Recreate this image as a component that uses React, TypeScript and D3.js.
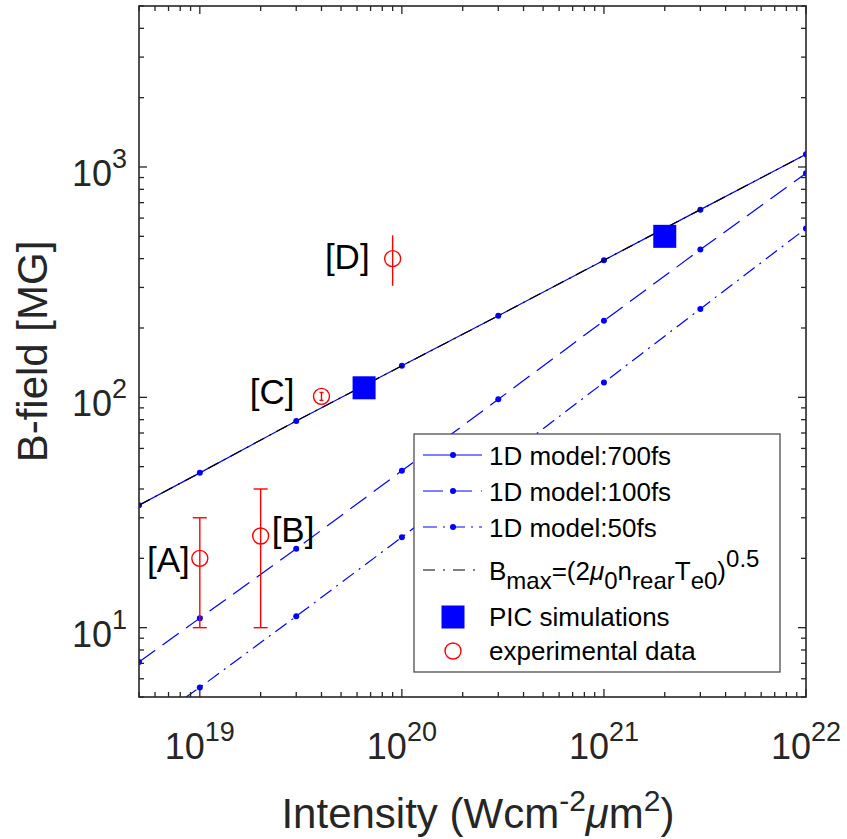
import React, { useEffect, useRef } from "react";
import * as d3 from "d3";

// intensity grid used by the 1D model curves (W cm^-2 um^2)
const intensity = [5e18, 1e19, 3e19, 1e20, 3e20, 1e21, 3e21, 1e22];
// B-field of the 1D model for each pulse length (MG)
const model700 = [34, 47, 79, 137, 226, 394, 653, 1135];
const model100 = [7.1, 11, 22, 48, 98, 215, 438, 940];
const model50 = [3.6, 5.5, 11.2, 24.7, 52, 116, 242, 541];
// B_max = (2 mu0 n_rear Te0)^0.5, lies right on top of the 700fs curve
const bmax = [34, 47, 79, 137, 226, 394, 653, 1135];

// PIC simulations
const picIntensity = [6.5e19, 2e21];
const picField = [110, 500];

// experimental data with error bars
const expIntensity = [1e19, 2e19, 4e19, 9e19];
const expField = [20, 25, 101, 400];
const expLow = [10, 10, 97, 305];
const expHigh = [30, 40, 105, 505];
const expLabels = ["[A]", "[B]", "[C]", "[D]"];

const xTickExps = [19, 20, 21, 22];
const yTickExps = [1, 2, 3];

type Part = { t: string; size: number; dy?: number; italic?: boolean };

const App = () => {
  const svgRef = useRef<SVGSVGElement>(null);

  useEffect(() => {
    const width = 847;
    const height = 839;
    const font = '"Liberation Sans", Arial, Helvetica, sans-serif';
    const ink = "#262626";
    const blue = "#0000ff";
    const red = "#ff0000";

    const svg = d3.select(svgRef.current)
      .attr("width", width)
      .attr("height", height);
    svg.selectAll("*").remove();

    const left = 139, right = 806, top = 6, bottom = 697;

    const x = d3.scaleLog().domain([5e18, 1e22]).range([left, right]);
    const y = d3.scaleLog().domain([5, 5000]).range([bottom, top]);

    // rich text helper (sub/superscripts)
    const rich = (sel: any, parts: Part[]) => {
      parts.forEach(p => {
        const ts = sel.append("tspan").attr("font-size", p.size).text(p.t);
        if (p.dy) ts.attr("dy", p.dy);
        if (p.italic) ts.attr("font-style", "italic");
      });
      return sel;
    };

    svg.append("rect").attr("width", width).attr("height", height).attr("fill", "#fff");

    svg.append("defs").append("clipPath").attr("id", "plotClip")
      .append("rect")
      .attr("x", left).attr("y", top)
      .attr("width", right - left).attr("height", bottom - top);

    const plot = svg.append("g").attr("clip-path", "url(#plotClip)");

    const line = d3.line<number>()
      .x((d, i) => x(intensity[i]))
      .y(d => y(d));

    // 1D model curves
    const curves = [
      { values: model700, dash: null },
      { values: model100, dash: "20,9" },
      { values: model50, dash: "14,6,2,6" },
    ];
    curves.forEach(c => {
      plot.append("path")
        .attr("d", line(c.values))
        .attr("fill", "none")
        .attr("stroke", blue)
        .attr("stroke-width", 1.2)
        .attr("stroke-dasharray", c.dash);
      plot.append("g").selectAll("circle")
        .data(c.values)
        .join("circle")
        .attr("cx", (d, i) => x(intensity[i]))
        .attr("cy", d => y(d))
        .attr("r", 3)
        .attr("fill", blue);
    });

    // B_max analytic curve
    plot.append("path")
      .attr("d", line(bmax))
      .attr("fill", "none")
      .attr("stroke", "#000")
      .attr("stroke-width", 1.2)
      .attr("stroke-dasharray", "12,6,2,6");

    // PIC squares
    const sq = 23;
    plot.append("g").selectAll("rect")
      .data(picField)
      .join("rect")
      .attr("x", (d, i) => x(picIntensity[i]) - sq / 2)
      .attr("y", d => y(d) - sq / 2)
      .attr("width", sq)
      .attr("height", sq)
      .attr("fill", blue);

    // experimental data
    const capW = [7, 7, 2, 0];
    const labelOff = [[-10, 14, "end"], [11, 6, "start"], [-27, 8, "end"], [-23, 10, "end"]];
    expField.forEach((v, i) => {
      const cx = x(expIntensity[i]);
      const g = plot.append("g").attr("stroke", red).attr("stroke-width", 1.4).attr("fill", "none");
      g.append("line")
        .attr("x1", cx).attr("x2", cx)
        .attr("y1", y(expLow[i])).attr("y2", y(expHigh[i]));
      if (capW[i] > 0) {
        [expLow[i], expHigh[i]].forEach(e => {
          g.append("line")
            .attr("x1", cx - capW[i]).attr("x2", cx + capW[i])
            .attr("y1", y(e)).attr("y2", y(e));
        });
      }
      g.append("circle").attr("cx", cx).attr("cy", y(v)).attr("r", 8);

      const [dx, dy, anchor] = labelOff[i] as [number, number, string];
      svg.append("text")
        .attr("x", cx + dx)
        .attr("y", y(v) + dy)
        .attr("text-anchor", anchor)
        .attr("font-family", font)
        .attr("font-size", 35)
        .attr("fill", "#000")
        .text(expLabels[i]);
    });

    // ticks on all four sides
    const isMajor = (v: number) => Math.abs(Math.log10(v) - Math.round(Math.log10(v))) < 1e-6;
    const ticks = svg.append("g").attr("stroke", ink).attr("stroke-width", 1.3);
    x.ticks().forEach(v => {
      const len = isMajor(v) ? 8 : 5;
      const px = x(v);
      ticks.append("line").attr("x1", px).attr("x2", px).attr("y1", bottom).attr("y2", bottom - len);
      ticks.append("line").attr("x1", px).attr("x2", px).attr("y1", top).attr("y2", top + len);
    });
    y.ticks().forEach(v => {
      const len = isMajor(v) ? 8 : 5;
      const py = y(v);
      ticks.append("line").attr("x1", left).attr("x2", left + len).attr("y1", py).attr("y2", py);
      ticks.append("line").attr("x1", right).attr("x2", right - len).attr("y1", py).attr("y2", py);
    });

    // box
    svg.append("rect")
      .attr("x", left).attr("y", top)
      .attr("width", right - left).attr("height", bottom - top)
      .attr("fill", "none")
      .attr("stroke", ink)
      .attr("stroke-width", 1.6);

    // tick labels
    xTickExps.forEach(e => {
      const t = svg.append("text")
        .attr("x", x(Math.pow(10, e)))
        .attr("y", 759)
        .attr("text-anchor", "middle")
        .attr("font-family", font)
        .attr("fill", ink);
      rich(t, [{ t: "10", size: 36 }, { t: String(e), size: 27, dy: -18 }]);
    });
    yTickExps.forEach(e => {
      const t = svg.append("text")
        .attr("x", 127)
        .attr("y", y(Math.pow(10, e)) + 19)
        .attr("text-anchor", "end")
        .attr("font-family", font)
        .attr("fill", ink);
      rich(t, [{ t: "10", size: 36 }, { t: String(e), size: 27, dy: -18 }]);
    });

    // axis labels
    const xl = svg.append("text")
      .attr("x", 478)
      .attr("y", 828)
      .attr("text-anchor", "middle")
      .attr("font-family", font)
      .attr("fill", ink);
    rich(xl, [
      { t: "Intensity (Wcm", size: 42 },
      { t: "-2", size: 30, dy: -17 },
      { t: "\u03bc", size: 42, dy: 17, italic: true },
      { t: "m", size: 42 },
      { t: "2", size: 30, dy: -17 },
      { t: ")", size: 42, dy: 17 },
    ]);

    svg.append("text")
      .attr("transform", `translate(47,${(top + bottom) / 2}) rotate(-90)`)
      .attr("text-anchor", "middle")
      .attr("font-family", font)
      .attr("font-size", 42)
      .attr("fill", ink)
      .text("B-field [MG]");

    // legend
    const lg = svg.append("g");
    lg.append("rect")
      .attr("x", 414).attr("y", 434)
      .attr("width", 366).attr("height", 238)
      .attr("fill", "#fff")
      .attr("stroke", "#404040")
      .attr("stroke-width", 1.2);

    const sx1 = 423, sx2 = 482, mx = 453, tx = 489;
    const rows = [455, 491, 527, 570, 617, 651];
    const lineRows = [
      { label: "1D model:700fs", dash: null },
      { label: "1D model:100fs", dash: "20,9" },
      { label: "1D model:50fs", dash: "14,6,2,6" },
    ];
    lineRows.forEach((r, i) => {
      lg.append("line")
        .attr("x1", sx1).attr("x2", sx2)
        .attr("y1", rows[i]).attr("y2", rows[i])
        .attr("stroke", blue)
        .attr("stroke-width", 1.2)
        .attr("stroke-dasharray", r.dash);
      lg.append("circle").attr("cx", mx).attr("cy", rows[i]).attr("r", 3).attr("fill", blue);
      lg.append("text")
        .attr("x", tx).attr("y", rows[i] + 10)
        .attr("font-family", font).attr("font-size", 26).attr("fill", "#000")
        .text(r.label);
    });

    lg.append("line")
      .attr("x1", sx1).attr("x2", sx2)
      .attr("y1", rows[3]).attr("y2", rows[3])
      .attr("stroke", "#000")
      .attr("stroke-width", 1.2)
      .attr("stroke-dasharray", "12,8,2,8");
    const bt = lg.append("text")
      .attr("x", tx).attr("y", rows[3] + 10)
      .attr("font-family", font).attr("fill", "#000");
    rich(bt, [
      { t: "B", size: 26 },
      { t: "max", size: 24, dy: 9 },
      { t: "=(2", size: 26, dy: -9 },
      { t: "\u03bc", size: 26, italic: true },
      { t: "0", size: 24, dy: 9 },
      { t: "n", size: 26, dy: -9 },
      { t: "rear", size: 24, dy: 9 },
      { t: "T", size: 26, dy: -9 },
      { t: "e0", size: 24, dy: 9 },
      { t: ")", size: 26, dy: -9 },
      { t: "0.5", size: 24, dy: -13 },
    ]);

    lg.append("rect")
      .attr("x", mx - sq / 2).attr("y", rows[4] - sq / 2)
      .attr("width", sq).attr("height", sq)
      .attr("fill", blue);
    lg.append("text")
      .attr("x", tx).attr("y", rows[4] + 9)
      .attr("font-family", font).attr("font-size", 26).attr("fill", "#000")
      .text("PIC simulations");

    lg.append("circle")
      .attr("cx", mx).attr("cy", rows[5]).attr("r", 8)
      .attr("fill", "none").attr("stroke", red).attr("stroke-width", 1.4);
    lg.append("text")
      .attr("x", tx).attr("y", rows[5] + 9)
      .attr("font-family", font).attr("font-size", 26).attr("fill", "#000")
      .text("experimental data");
  }, []);

  return (
    <svg ref={svgRef} style={{ position: "absolute", left: 0, top: 0, display: "block" }} />
  );
};

export default App;
